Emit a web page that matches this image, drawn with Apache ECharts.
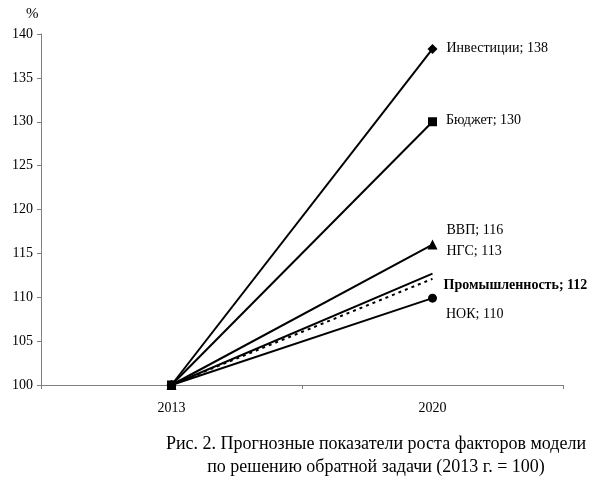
<!DOCTYPE html>
<html>
<head>
<meta charset="utf-8">
<script src="https://cdn.jsdelivr.net/npm/echarts@6/dist/echarts.min.js"></script>
<style>
  html, body { margin: 0; padding: 0; background: #fff; }
  #chart { width: 595px; height: 477px; }
</style>
</head>
<body>
<div id="chart"></div>
<script>
// Forecast growth of model factors (2013 = 100)
const years = ["2013", "2020"];

const investments = [100, 138.3];
const budget      = [100, 130];
const gdp         = [100, 116];
const ngs         = [100, 112.7];
const industry    = [100, 112.1];
const nok         = [100, 109.9];

const labels = {
  investments: "Инвестиции; 138",
  budget: "Бюджет; 130",
  gdp: "ВВП; 116",
  ngs: "НГС; 113",
  industry: "Промышленность; 112",
  nok: "НОК; 110",
};

const FONT = "Liberation Serif";

// put a text label next to the 2020 point only
function withEndLabel(values, text, offset, bold) {
  return values.map((v, i) => i < values.length - 1 ? v : {
    value: v,
    label: {
      show: true,
      position: "right",
      offset: offset,
      formatter: text,
      color: "#000",
      fontFamily: FONT,
      fontSize: 14,
      fontWeight: bold ? "bold" : "normal",
    },
  });
}

function lineSeries(name, data, symbol, size, extra) {
  return Object.assign({
    name: name,
    type: "line",
    data: data,
    symbol: symbol,
    symbolSize: size,
    lineStyle: { color: "#000", width: 2 },
    itemStyle: { color: "#000" },
    animation: false,
    silent: true,
  }, extra || {});
}

const chart = echarts.init(document.getElementById("chart"));

chart.setOption({
  backgroundColor: "#fff",
  grid: { left: 41, right: 32, top: 34, bottom: 92 },
  title: [
    {
      text: "%",
      left: 21, top: 2,
      textStyle: { fontFamily: FONT, fontSize: 15, fontWeight: "normal", color: "#000" },
    },
    {
      text: "Рис. 2. Прогнозные показатели роста факторов модели\nпо решению обратной задачи (2013 г. = 100)",
      left: 371, top: 428, textAlign: "center",
      textStyle: { fontFamily: FONT, fontSize: 18, fontWeight: "normal", color: "#000", lineHeight: 23, align: "center" },
    },
  ],
  xAxis: {
    type: "category",
    data: years,
    boundaryGap: true,
    axisLine: { lineStyle: { color: "#808080", width: 1 } },
    axisTick: { show: true, length: 4, lineStyle: { color: "#808080" } },
    axisLabel: { color: "#000", fontFamily: FONT, fontSize: 14, margin: 16 },
  },
  yAxis: {
    type: "value",
    min: 100, max: 140, interval: 5,
    axisLine: { show: true, lineStyle: { color: "#808080", width: 1 } },
    axisTick: { show: true, length: 4, lineStyle: { color: "#808080" } },
    axisLabel: { color: "#000", fontFamily: FONT, fontSize: 14, margin: 8 },
    splitLine: { show: false },
  },
  series: [
    lineSeries("НОК", withEndLabel(nok, labels.nok, [4, 16]), "circle", 9),
    lineSeries("Промышленность", withEndLabel(industry, labels.industry, [6, 7], true), "circle", 0,
      { lineStyle: { color: "#000", width: 2, type: [3, 4] } }),
    lineSeries("НГС", withEndLabel(ngs, labels.ngs, [9, -22]), "circle", 0),
    lineSeries("ВВП", withEndLabel(gdp, labels.gdp, [4, -14]), "triangle", 10),
    lineSeries("Бюджет", withEndLabel(budget, labels.budget, [4, -1]), "rect", 9),
    lineSeries("Инвестиции", withEndLabel(investments, labels.investments, [4, -1]), "diamond", 10),
  ],
});
</script>
</body>
</html>
